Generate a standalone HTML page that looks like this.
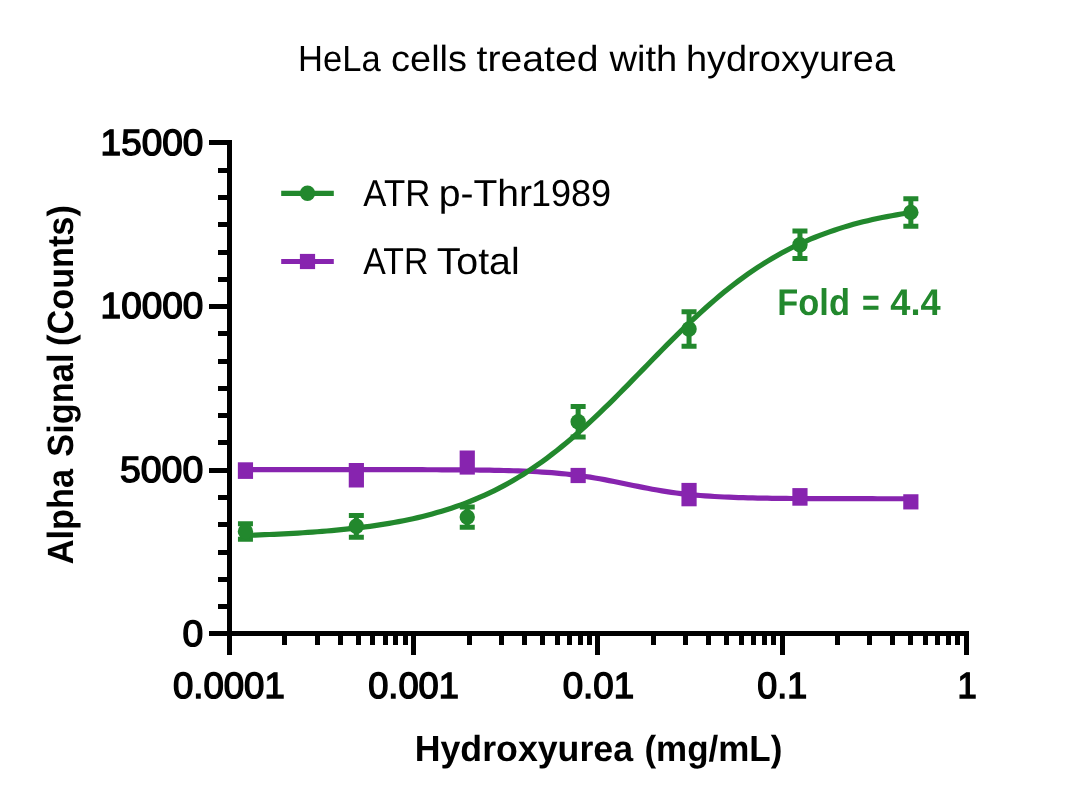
<!DOCTYPE html>
<html lang="en">
<head>
<meta charset="utf-8">
<title>HeLa cells treated with hydroxyurea</title>
<style>
html,body{margin:0;padding:0;background:#fff;}
body{width:1080px;height:808px;overflow:hidden;}
svg{display:block;}
</style>
</head>
<body>
<svg width="1080" height="808" viewBox="0 0 1080 808">
<rect width="1080" height="808" fill="#fff"/>
<g fill="#000" shape-rendering="crispEdges">
<rect x="227" y="140" width="5" height="515"/>
<rect x="209" y="631" width="760" height="5"/>
<rect x="209" y="631" width="19" height="5"/>
<rect x="218" y="604" width="10" height="5"/>
<rect x="218" y="577" width="10" height="5"/>
<rect x="218" y="550" width="10" height="5"/>
<rect x="218" y="522" width="10" height="5"/>
<rect x="218" y="495" width="10" height="5"/>
<rect x="209" y="468" width="19" height="5"/>
<rect x="218" y="440" width="10" height="5"/>
<rect x="218" y="413" width="10" height="5"/>
<rect x="218" y="386" width="10" height="5"/>
<rect x="218" y="359" width="10" height="5"/>
<rect x="218" y="331" width="10" height="5"/>
<rect x="209" y="304" width="19" height="5"/>
<rect x="218" y="277" width="10" height="5"/>
<rect x="218" y="250" width="10" height="5"/>
<rect x="218" y="222" width="10" height="5"/>
<rect x="218" y="195" width="10" height="5"/>
<rect x="218" y="168" width="10" height="5"/>
<rect x="209" y="140" width="19" height="5"/>
<rect x="227" y="634" width="5" height="21"/>
<rect x="282" y="634" width="5" height="11"/>
<rect x="315" y="634" width="5" height="11"/>
<rect x="338" y="634" width="5" height="11"/>
<rect x="356" y="634" width="5" height="11"/>
<rect x="370" y="634" width="5" height="11"/>
<rect x="383" y="634" width="5" height="11"/>
<rect x="393" y="634" width="5" height="11"/>
<rect x="403" y="634" width="5" height="11"/>
<rect x="411" y="634" width="5" height="21"/>
<rect x="467" y="634" width="5" height="11"/>
<rect x="499" y="634" width="5" height="11"/>
<rect x="522" y="634" width="5" height="11"/>
<rect x="540" y="634" width="5" height="11"/>
<rect x="555" y="634" width="5" height="11"/>
<rect x="567" y="634" width="5" height="11"/>
<rect x="578" y="634" width="5" height="11"/>
<rect x="587" y="634" width="5" height="11"/>
<rect x="595" y="634" width="5" height="21"/>
<rect x="651" y="634" width="5" height="11"/>
<rect x="683" y="634" width="5" height="11"/>
<rect x="706" y="634" width="5" height="11"/>
<rect x="724" y="634" width="5" height="11"/>
<rect x="739" y="634" width="5" height="11"/>
<rect x="751" y="634" width="5" height="11"/>
<rect x="762" y="634" width="5" height="11"/>
<rect x="771" y="634" width="5" height="11"/>
<rect x="780" y="634" width="5" height="21"/>
<rect x="835" y="634" width="5" height="11"/>
<rect x="867" y="634" width="5" height="11"/>
<rect x="890" y="634" width="5" height="11"/>
<rect x="908" y="634" width="5" height="11"/>
<rect x="923" y="634" width="5" height="11"/>
<rect x="935" y="634" width="5" height="11"/>
<rect x="946" y="634" width="5" height="11"/>
<rect x="955" y="634" width="5" height="11"/>
<rect x="964" y="634" width="5" height="21"/>
</g>
<text y="71" font-family="'Liberation Sans', Arial, Helvetica, sans-serif" text-rendering="geometricPrecision" font-size="36.4" font-weight="normal" fill="#000"><tspan x="298.04" textLength="82.59" lengthAdjust="spacingAndGlyphs">HeLa</tspan> <tspan x="391.09" textLength="75.96" lengthAdjust="spacingAndGlyphs">cells</tspan> <tspan x="476.51" textLength="122.07" lengthAdjust="spacingAndGlyphs">treated</tspan> <tspan x="609.50" textLength="67.81" lengthAdjust="spacingAndGlyphs">with</tspan> <tspan x="685.94" textLength="209.08" lengthAdjust="spacingAndGlyphs">hydroxyurea</tspan></text>
<text y="645.60" font-family="'Liberation Sans', Arial, Helvetica, sans-serif" text-rendering="geometricPrecision" font-size="36.6" font-weight="normal" fill="#000" stroke="#000" stroke-width="1.4" stroke-linejoin="miter"><tspan x="182.61" textLength="20.72" lengthAdjust="spacingAndGlyphs">0</tspan></text>
<text y="481.94" font-family="'Liberation Sans', Arial, Helvetica, sans-serif" text-rendering="geometricPrecision" font-size="36.6" font-weight="normal" fill="#000" stroke="#000" stroke-width="1.4" stroke-linejoin="miter"><tspan x="119.90" textLength="83.39" lengthAdjust="spacingAndGlyphs">5000</tspan></text>
<text y="318.27" font-family="'Liberation Sans', Arial, Helvetica, sans-serif" text-rendering="geometricPrecision" font-size="36.6" font-weight="normal" fill="#000" stroke="#000" stroke-width="1.4" stroke-linejoin="miter"><tspan x="100.63" textLength="102.68" lengthAdjust="spacingAndGlyphs">10000</tspan></text>
<text y="154.61" font-family="'Liberation Sans', Arial, Helvetica, sans-serif" text-rendering="geometricPrecision" font-size="36.6" font-weight="normal" fill="#000" stroke="#000" stroke-width="1.4" stroke-linejoin="miter"><tspan x="100.63" textLength="102.68" lengthAdjust="spacingAndGlyphs">15000</tspan></text>
<text y="698" font-family="'Liberation Sans', Arial, Helvetica, sans-serif" text-rendering="geometricPrecision" font-size="36.6" font-weight="normal" fill="#000" stroke="#000" stroke-width="1.4" stroke-linejoin="miter"><tspan x="172.94" textLength="111.84" lengthAdjust="spacingAndGlyphs">0.0001</tspan></text>
<text y="698" font-family="'Liberation Sans', Arial, Helvetica, sans-serif" text-rendering="geometricPrecision" font-size="36.6" font-weight="normal" fill="#000" stroke="#000" stroke-width="1.4" stroke-linejoin="miter"><tspan x="368.15" textLength="90.75" lengthAdjust="spacingAndGlyphs">0.001</tspan></text>
<text y="698" font-family="'Liberation Sans', Arial, Helvetica, sans-serif" text-rendering="geometricPrecision" font-size="36.6" font-weight="normal" fill="#000" stroke="#000" stroke-width="1.4" stroke-linejoin="miter"><tspan x="562.63" textLength="71.45" lengthAdjust="spacingAndGlyphs">0.01</tspan></text>
<text y="698" font-family="'Liberation Sans', Arial, Helvetica, sans-serif" text-rendering="geometricPrecision" font-size="36.6" font-weight="normal" fill="#000" stroke="#000" stroke-width="1.4" stroke-linejoin="miter"><tspan x="757.27" textLength="49.83" lengthAdjust="spacingAndGlyphs">0.1</tspan></text>
<text y="698" font-family="'Liberation Sans', Arial, Helvetica, sans-serif" text-rendering="geometricPrecision" font-size="36.6" font-weight="normal" fill="#000" stroke="#000" stroke-width="1.4" stroke-linejoin="miter"><tspan x="957.60" textLength="19.27" lengthAdjust="spacingAndGlyphs">1</tspan></text>
<text y="761" font-family="'Liberation Sans', Arial, Helvetica, sans-serif" text-rendering="geometricPrecision" font-size="36.4" font-weight="bold" fill="#000"><tspan x="414.74" textLength="218.26" lengthAdjust="spacingAndGlyphs">Hydroxyurea</tspan> <tspan x="644.45" textLength="137.96" lengthAdjust="spacingAndGlyphs">(mg/mL)</tspan></text>
<text y="0" font-family="'Liberation Sans', Arial, Helvetica, sans-serif" text-rendering="geometricPrecision" font-size="36.5" font-weight="bold" fill="#000" transform="translate(72.7,0) rotate(-90)"><tspan x="-564.36" textLength="95.41" lengthAdjust="spacingAndGlyphs">Alpha</tspan> <tspan x="-456.73" textLength="103.16" lengthAdjust="spacingAndGlyphs">Signal</tspan> <tspan x="-345.91" textLength="140.73" lengthAdjust="spacingAndGlyphs">(Counts)</tspan></text>
<text y="206" font-family="'Liberation Sans', Arial, Helvetica, sans-serif" text-rendering="geometricPrecision" font-size="37.6" font-weight="normal" fill="#000"><tspan x="363.33" textLength="66.97" lengthAdjust="spacingAndGlyphs">ATR</tspan> <tspan x="438.71" textLength="93.29" lengthAdjust="spacingAndGlyphs">p-Thr</tspan><tspan x="531.05" textLength="80.06" lengthAdjust="spacingAndGlyphs">1989</tspan></text>
<text y="274" font-family="'Liberation Sans', Arial, Helvetica, sans-serif" text-rendering="geometricPrecision" font-size="37.6" font-weight="normal" fill="#000"><tspan x="363.33" textLength="65.12" lengthAdjust="spacingAndGlyphs">ATR</tspan> <tspan x="436.71" textLength="82.93" lengthAdjust="spacingAndGlyphs">Total</tspan></text>
<text y="314.6" font-family="'Liberation Sans', Arial, Helvetica, sans-serif" text-rendering="geometricPrecision" font-size="37.2" font-weight="bold" fill="#22882d"><tspan x="777.36" textLength="72.58" lengthAdjust="spacingAndGlyphs">Fold</tspan> <tspan x="861.99" textLength="17.69" lengthAdjust="spacingAndGlyphs">=</tspan> <tspan x="890.26" textLength="50.33" lengthAdjust="spacingAndGlyphs">4.4</tspan></text>
<line x1="281.2" y1="193.3" x2="333.8" y2="193.3" stroke="#22882d" stroke-width="5.2"/>
<circle cx="307.5" cy="193.3" r="7.7" fill="#22882d"/>
<line x1="281.2" y1="261.5" x2="333.8" y2="261.5" stroke="#8724af" stroke-width="5.2"/>
<rect x="299.9" y="253.9" width="15.2" height="15.2" fill="#8724af"/>
<path d="M245.45,469.63 L250.24,469.63 L255.03,469.63 L259.81,469.63 L264.60,469.63 L269.39,469.63 L274.18,469.63 L278.96,469.63 L283.75,469.63 L288.54,469.63 L293.32,469.63 L298.11,469.63 L302.90,469.63 L307.68,469.63 L312.47,469.63 L317.26,469.63 L322.05,469.63 L326.83,469.63 L331.62,469.63 L336.41,469.64 L341.19,469.64 L345.98,469.64 L350.77,469.64 L355.56,469.64 L360.34,469.64 L365.13,469.64 L369.92,469.65 L374.70,469.65 L379.49,469.65 L384.28,469.66 L389.06,469.66 L393.85,469.67 L398.64,469.67 L403.43,469.68 L408.21,469.69 L413.00,469.69 L417.79,469.70 L422.57,469.71 L427.36,469.73 L432.15,469.74 L436.93,469.76 L441.72,469.78 L446.51,469.80 L451.30,469.82 L456.08,469.85 L460.87,469.89 L465.66,469.92 L470.44,469.97 L475.23,470.01 L480.02,470.07 L484.80,470.13 L489.59,470.20 L494.38,470.29 L499.17,470.38 L503.95,470.49 L508.74,470.61 L513.53,470.74 L518.31,470.90 L523.10,471.07 L527.89,471.27 L532.68,471.50 L537.46,471.75 L542.25,472.03 L547.04,472.35 L551.82,472.70 L556.61,473.10 L561.40,473.54 L566.18,474.02 L570.97,474.55 L575.76,475.13 L580.55,475.76 L585.33,476.45 L590.12,477.18 L594.91,477.97 L599.69,478.80 L604.48,479.67 L609.27,480.58 L614.05,481.53 L618.84,482.49 L623.63,483.47 L628.42,484.46 L633.20,485.45 L637.99,486.42 L642.78,487.38 L647.56,488.30 L652.35,489.20 L657.14,490.05 L661.92,490.85 L666.71,491.61 L671.50,492.32 L676.29,492.97 L681.07,493.57 L685.86,494.13 L690.65,494.63 L695.43,495.09 L700.22,495.50 L705.01,495.87 L709.80,496.21 L714.58,496.51 L719.37,496.77 L724.16,497.01 L728.94,497.22 L733.73,497.40 L738.52,497.57 L743.30,497.71 L748.09,497.84 L752.88,497.95 L757.67,498.05 L762.45,498.14 L767.24,498.22 L772.03,498.28 L776.81,498.34 L781.60,498.39 L786.39,498.44 L791.17,498.48 L795.96,498.51 L800.75,498.54 L805.54,498.57 L810.32,498.59 L815.11,498.61 L819.90,498.63 L824.68,498.64 L829.47,498.66 L834.26,498.67 L839.04,498.68 L843.83,498.69 L848.62,498.70 L853.41,498.70 L858.19,498.71 L862.98,498.71 L867.77,498.72 L872.55,498.72 L877.34,498.73 L882.13,498.73 L886.92,498.73 L891.70,498.73 L896.49,498.74 L901.28,498.74 L906.06,498.74 L910.85,498.74" stroke="#8724af" stroke-width="5.2" fill="none" stroke-linejoin="round"/>
<rect x="237.85" y="462.30" width="15.2" height="16.60" fill="#8724af"/>
<rect x="348.75" y="463.00" width="15.2" height="24.50" fill="#8724af"/>
<rect x="459.65" y="450.50" width="15.2" height="24.10" fill="#8724af"/>
<rect x="570.55" y="467.90" width="15.2" height="15.20" fill="#8724af"/>
<rect x="681.45" y="482.90" width="15.2" height="23.40" fill="#8724af"/>
<rect x="792.35" y="488.10" width="15.2" height="17.60" fill="#8724af"/>
<rect x="903.25" y="494.25" width="15.2" height="15.20" fill="#8724af"/>
<path d="M245.45,535.40 L250.24,535.25 L255.03,535.08 L259.81,534.90 L264.60,534.71 L269.39,534.51 L274.18,534.30 L278.96,534.08 L283.75,533.84 L288.54,533.59 L293.32,533.33 L298.11,533.05 L302.90,532.76 L307.68,532.44 L312.47,532.11 L317.26,531.76 L322.05,531.39 L326.83,531.00 L331.62,530.59 L336.41,530.15 L341.19,529.68 L345.98,529.20 L350.77,528.68 L355.56,528.13 L360.34,527.56 L365.13,526.95 L369.92,526.31 L374.70,525.63 L379.49,524.91 L384.28,524.15 L389.06,523.36 L393.85,522.52 L398.64,521.63 L403.43,520.70 L408.21,519.71 L413.00,518.68 L417.79,517.59 L422.57,516.44 L427.36,515.23 L432.15,513.96 L436.93,512.62 L441.72,511.22 L446.51,509.75 L451.30,508.20 L456.08,506.58 L460.87,504.88 L465.66,503.09 L470.44,501.23 L475.23,499.27 L480.02,497.23 L484.80,495.10 L489.59,492.87 L494.38,490.54 L499.17,488.11 L503.95,485.59 L508.74,482.96 L513.53,480.22 L518.31,477.38 L523.10,474.43 L527.89,471.37 L532.68,468.20 L537.46,464.92 L542.25,461.53 L547.04,458.03 L551.82,454.42 L556.61,450.70 L561.40,446.88 L566.18,442.96 L570.97,438.93 L575.76,434.81 L580.55,430.59 L585.33,426.28 L590.12,421.88 L594.91,417.41 L599.69,412.86 L604.48,408.24 L609.27,403.55 L614.05,398.81 L618.84,394.03 L623.63,389.20 L628.42,384.33 L633.20,379.44 L637.99,374.54 L642.78,369.62 L647.56,364.71 L652.35,359.80 L657.14,354.90 L661.92,350.03 L666.71,345.19 L671.50,340.40 L676.29,335.64 L681.07,330.95 L685.86,326.31 L690.65,321.74 L695.43,317.24 L700.22,312.83 L705.01,308.50 L709.80,304.25 L714.58,300.10 L719.37,296.05 L724.16,292.10 L728.94,288.25 L733.73,284.51 L738.52,280.87 L743.30,277.35 L748.09,273.93 L752.88,270.62 L757.67,267.42 L762.45,264.33 L767.24,261.35 L772.03,258.48 L776.81,255.72 L781.60,253.06 L786.39,250.51 L791.17,248.06 L795.96,245.70 L800.75,243.45 L805.54,241.29 L810.32,239.22 L815.11,237.25 L819.90,235.36 L824.68,233.56 L829.47,231.83 L834.26,230.19 L839.04,228.63 L843.83,227.13 L848.62,225.71 L853.41,224.36 L858.19,223.07 L862.98,221.85 L867.77,220.69 L872.55,219.58 L877.34,218.53 L882.13,217.53 L886.92,216.59 L891.70,215.69 L896.49,214.84 L901.28,214.03 L906.06,213.26 L910.85,212.54" stroke="#22882d" stroke-width="5.2" fill="none" stroke-linejoin="round"/>
<path d="M245.45,523.75V539.25M237.95,523.75H252.95M237.95,539.25H252.95" stroke="#22882d" stroke-width="5" fill="none"/>
<circle cx="245.45" cy="531.50" r="7.7" fill="#22882d"/>
<path d="M356.35,515.40V537.20M348.85,515.40H363.85M348.85,537.20H363.85" stroke="#22882d" stroke-width="5" fill="none"/>
<circle cx="356.35" cy="526.30" r="7.7" fill="#22882d"/>
<path d="M467.25,507.00V527.20M459.75,507.00H474.75M459.75,527.20H474.75" stroke="#22882d" stroke-width="5" fill="none"/>
<circle cx="467.25" cy="517.10" r="7.7" fill="#22882d"/>
<path d="M578.15,406.60V437.00M570.65,406.60H585.65M570.65,437.00H585.65" stroke="#22882d" stroke-width="5" fill="none"/>
<circle cx="578.15" cy="421.80" r="7.7" fill="#22882d"/>
<path d="M689.05,311.70V346.30M681.55,311.70H696.55M681.55,346.30H696.55" stroke="#22882d" stroke-width="5" fill="none"/>
<circle cx="689.05" cy="329.00" r="7.7" fill="#22882d"/>
<path d="M799.95,231.05V258.55M792.45,231.05H807.45M792.45,258.55H807.45" stroke="#22882d" stroke-width="5" fill="none"/>
<circle cx="799.95" cy="244.80" r="7.7" fill="#22882d"/>
<path d="M910.85,198.65V226.15M903.35,198.65H918.35M903.35,226.15H918.35" stroke="#22882d" stroke-width="5" fill="none"/>
<circle cx="910.85" cy="212.40" r="7.7" fill="#22882d"/>
</svg>
</body>
</html>
